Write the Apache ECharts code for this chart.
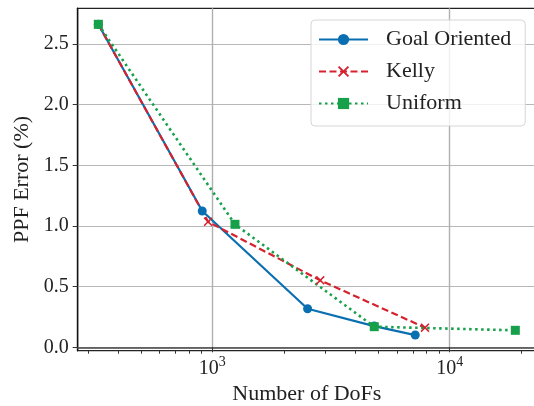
<!DOCTYPE html>
<html>
<head>
<meta charset="utf-8">
<script src="https://cdn.jsdelivr.net/npm/echarts@6/dist/echarts.min.js"></script>
<style>html,body{margin:0;padding:0;background:#fff}#c{width:534px;height:406px}</style>
</head>
<body>
<div id="c"></div>
<script>
// Data
const goalX = [331, 907, 2520, 4810, 7160];
const goalY = [2.663, 1.124, 0.318, 0.175, 0.101];
const kellyX = [331, 960, 2850, 7870];
const kellyY = [2.663, 1.035, 0.552, 0.162];
const unifX = [331, 1246, 4810, 18900];
const unifY = [2.663, 1.014, 0.170, 0.140];
const yTicks = [0, 0.5, 1.0, 1.5, 2.0, 2.5];
const xMajor = [1000, 10000];
const xMinor = [300, 400, 500, 600, 700, 800, 900, 2000, 3000, 4000, 5000, 6000, 7000, 8000, 9000, 20000];

const FONT = '"Liberation Serif", "DejaVu Serif", serif';
const crossPath = 'path://M0,1.2L1.2,0L5,3.8L8.8,0L10,1.2L6.2,5L10,8.8L8.8,10L5,6.2L1.2,10L0,8.8L3.8,5Z';

const zip = (xs, ys) => xs.map((x, i) => [x, ys[i]]);

const chart = echarts.init(document.getElementById('c'), null, {renderer: 'canvas'});
chart.setOption({
  animation: false,
  grid: {left: 77.7, right: -2, top: 8.3, bottom: 55.3, containLabel: false, outerBoundsMode: 'none',
         show: true, borderColor: '#222', borderWidth: 1.2, backgroundColor: 'transparent'},
  xAxis: [{
    type: 'log', logBase: 10, min: 271, max: 23100,
    name: 'Number of DoFs', nameLocation: 'middle', nameGap: 30,
    nameTextStyle: {fontFamily: FONT, fontSize: 22, color: '#222'},
    axisLine: {show: true, lineStyle: {color: '#444', width: 1.6}},
    axisTick: {show: true, length: 5, customValues: xMajor, lineStyle: {color: '#333', width: 1}},
    splitLine: {show: true, lineStyle: {color: '#b0b0b0', width: 1.4}},
    minorTick: {show: false}, minorSplitLine: {show: false},
    axisLabel: {
      customValues: xMajor, margin: 5,
      formatter: v => '{a|10}{b|' + Math.round(Math.log10(v)) + '}',
      rich: {
        a: {fontFamily: FONT, fontSize: 20, color: '#222', lineHeight: 23, verticalAlign: 'bottom'},
        b: {fontFamily: FONT, fontSize: 14, color: '#222', verticalAlign: 'top'}
      }
    }
  }, {
    type: 'log', logBase: 10, min: 271, max: 23100, position: 'bottom',
    axisLine: {show: false},
    axisTick: {show: true, length: 3, customValues: xMinor, lineStyle: {color: '#333', width: 1}},
    axisLabel: {show: false},
    splitLine: {show: false}
  }],
  yAxis: {
    type: 'value', min: -0.028, max: 2.795,
    name: 'PPF Error (%)', nameLocation: 'middle', nameGap: 37,
    nameTextStyle: {fontFamily: FONT, fontSize: 22, color: '#222'},
    axisLine: {show: true, lineStyle: {color: '#111', width: 1.4}},
    axisTick: {show: true, length: 5, customValues: yTicks, lineStyle: {color: '#333', width: 1}},
    splitLine: {show: true, lineStyle: {color: '#b8b8b8', width: 1.2}},
    axisLabel: {customValues: yTicks, margin: 9, fontFamily: FONT, fontSize: 20, color: '#222', formatter: v => v.toFixed(1)}
  },
  legend: {
    left: 311, top: 20, orient: 'vertical',
    padding: [8, 14, 11, 7], itemGap: 9, itemWidth: 49, itemHeight: 14,
    backgroundColor: 'rgba(255,255,255,0.8)', borderColor: '#d6d6d6', borderWidth: 1, borderRadius: 4,
    textStyle: {fontFamily: FONT, fontSize: 22, color: '#222', lineHeight: 23, padding: [0, 0, 0, 13]},
    data: ['Goal Oriented', 'Kelly', 'Uniform']
  },
  series: [{
    name: 'Goal Oriented', type: 'line', xAxisIndex: 0, data: zip(goalX, goalY),
    symbol: 'circle', symbolSize: 9,
    lineStyle: {color: '#0a6fb0', width: 2.2}, itemStyle: {color: '#0a6fb0'}
  }, {
    name: 'Kelly', type: 'line', xAxisIndex: 0, data: zip(kellyX, kellyY),
    symbol: crossPath, symbolSize: 9,
    lineStyle: {color: '#d5222e', width: 2.2, type: [7, 3.5]}, itemStyle: {color: '#d5222e'}
  }, {
    name: 'Uniform', type: 'line', xAxisIndex: 0, data: zip(unifX, unifY),
    symbol: 'rect', symbolSize: 9,
    lineStyle: {color: '#16a04a', width: 2.6, type: [2.5, 3.5]}, itemStyle: {color: '#16a04a'}
  }]
});
</script>
</body>
</html>
